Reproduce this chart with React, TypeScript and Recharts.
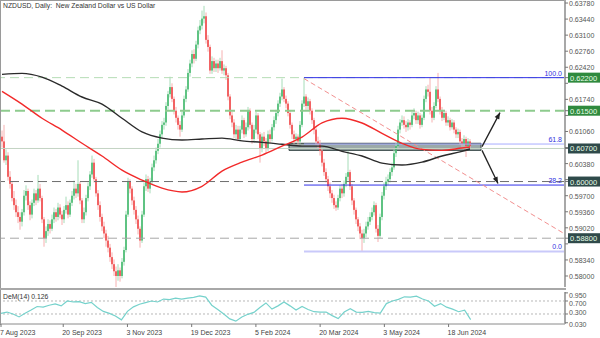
import React from 'react'
import { ComposedChart, Bar, Line, XAxis, YAxis, ReferenceLine, ReferenceArea } from 'recharts'

// ── Data (prices in pips, 1e-4) ───────────────────────────────────────────────

const firstOpen = 6095

const closes = [
  6085, 6045, 6055, 6010, 5995, 5965, 5950, 5935, 5925, 5915,
  5935, 5970, 5980, 5950, 5930, 5955, 5975, 5960, 5985, 5965,
  5920, 5880, 5895, 5910, 5900, 5920, 5935, 5925, 5945, 5930,
  5920, 5940, 5950, 5930, 5955, 5970, 5985, 5975, 5995, 5960,
  5920, 5935, 5965, 5990, 6015, 6040, 6005, 5975, 5950, 5925,
  5905, 5890, 5875, 5860, 5840, 5825, 5810, 5800, 5812, 5800,
  5830, 5855, 5930, 6000, 5985, 5960, 5940, 5920, 5900, 5875,
  5930, 5990, 6005, 5985, 6000, 6030, 6045, 6065, 6080, 6100,
  6120, 6125, 6160, 6185, 6200, 6175, 6150, 6135, 6120, 6110,
  6140, 6175, 6195, 6230, 6250, 6270, 6260, 6290, 6320, 6330,
  6345, 6350, 6300, 6285, 6235, 6255, 6240, 6250, 6240, 6255,
  6235, 6240, 6225, 6180, 6140, 6125, 6100, 6110, 6090, 6110,
  6130, 6100, 6115, 6150, 6120, 6090, 6110, 6140, 6100, 6070,
  6095, 6085, 6070, 6100, 6090, 6115, 6130, 6145, 6165, 6180,
  6195, 6175, 6165, 6145, 6120, 6100, 6090, 6095, 6085, 6120,
  6165, 6180, 6160, 6170, 6150, 6130, 6110, 6085, 6080, 6065,
  6040, 6020, 6005, 5990, 5975, 5965, 5950, 5945, 5965, 5985,
  5975, 5995, 6010, 6020, 5990, 5960, 5940, 5920, 5905, 5890,
  5880, 5890, 5905, 5915, 5925, 5935, 5950, 5900, 5885, 5925,
  5970, 5990, 6000, 6005, 6020, 6030, 6060, 6075, 6110, 6125,
  6130, 6120, 6115, 6125, 6120, 6140, 6145, 6130, 6140, 6120,
  6135, 6175, 6195, 6190, 6150, 6135, 6160, 6195, 6175, 6150,
  6135, 6145, 6125, 6130, 6115, 6125, 6110, 6100, 6105, 6085,
  6080, 6090, 6075, 6085, 6075,
]

const highs = [
  6108, 6120, 6068, 6062, 6022, 6000, 5980, 5962, 5948, 5935,
  5942, 5982, 5992, 5985, 5958, 5962, 5985, 5982, 6014, 5995,
  5970, 5925, 5905, 5920, 5918, 5930, 5945, 5942, 5955, 5952,
  5938, 5948, 5968, 5958, 5962, 5980, 6002, 5995, 6045, 6000,
  5965, 5945, 5972, 5998, 6022, 6055, 6048, 6010, 5982, 5958,
  5932, 5915, 5898, 5885, 5868, 5850, 5835, 5820, 5825, 5818,
  5838, 5862, 5938, 6008, 6005, 5990, 5968, 5948, 5928, 5905,
  5938, 5998, 6015, 6012, 6008, 6038, 6055, 6072, 6090, 6108,
  6128, 6135, 6168, 6192, 6222, 6208, 6180, 6158, 6140, 6128,
  6148, 6182, 6202, 6238, 6258, 6278, 6280, 6298, 6328, 6342,
  6362, 6372, 6358, 6310, 6290, 6265, 6262, 6258, 6258, 6262,
  6278, 6248, 6245, 6230, 6185, 6148, 6132, 6120, 6118, 6118,
  6140, 6135, 6125, 6158, 6155, 6125, 6120, 6148, 6145, 6105,
  6102, 6105, 6092, 6108, 6110, 6122, 6138, 6152, 6172, 6188,
  6218, 6200, 6182, 6170, 6150, 6125, 6108, 6102, 6100, 6128,
  6172, 6220, 6185, 6178, 6175, 6155, 6135, 6115, 6095, 6088,
  6070, 6048, 6028, 6012, 5998, 5982, 5972, 5958, 5972, 5992,
  5995, 6002, 6018, 6065, 6025, 5995, 5965, 5945, 5925, 5912,
  5898, 5900, 5915, 5925, 5935, 5945, 5958, 5955, 5908, 5932,
  5978, 5998, 6010, 6015, 6028, 6040, 6068, 6082, 6118, 6132,
  6140, 6138, 6128, 6132, 6130, 6148, 6155, 6150, 6148, 6145,
  6142, 6182, 6202, 6205, 6220, 6158, 6168, 6202, 6230, 6180,
  6158, 6152, 6150, 6138, 6135, 6132, 6130, 6115, 6112, 6110,
  6092, 6098, 6095, 6092, 6090,
]

const lows = [
  6072, 6040, 6035, 6002, 5985, 5958, 5940, 5925, 5912, 5898,
  5905, 5928, 5960, 5940, 5918, 5922, 5948, 5950, 5955, 5958,
  5912, 5862, 5870, 5885, 5890, 5895, 5912, 5915, 5918, 5922,
  5908, 5912, 5932, 5922, 5925, 5948, 5962, 5965, 5968, 5952,
  5912, 5912, 5928, 5958, 5982, 6008, 5998, 5968, 5940, 5915,
  5895, 5880, 5862, 5850, 5830, 5815, 5800, 5776, 5790, 5788,
  5795, 5822, 5850, 5925, 5975, 5950, 5930, 5910, 5888, 5860,
  5870, 5925, 5980, 5978, 5975, 5995, 6022, 6038, 6058, 6072,
  6092, 6110, 6118, 6152, 6178, 6168, 6142, 6125, 6110, 6095,
  6105, 6135, 6168, 6190, 6222, 6242, 6250, 6255, 6282, 6312,
  6322, 6335, 6292, 6275, 6228, 6228, 6232, 6232, 6230, 6235,
  6228, 6225, 6215, 6172, 6132, 6115, 6092, 6090, 6085, 6085,
  6102, 6092, 6095, 6108, 6112, 6080, 6085, 6102, 6090, 6040,
  6062, 6075, 6060, 6065, 6082, 6085, 6108, 6122, 6138, 6158,
  6172, 6168, 6155, 6138, 6112, 6090, 6080, 6082, 6078, 6080,
  6115, 6158, 6152, 6152, 6142, 6122, 6100, 6078, 6070, 6055,
  6032, 6012, 5998, 5980, 5965, 5955, 5942, 5938, 5940, 5958,
  5965, 5968, 5988, 6002, 5982, 5950, 5930, 5910, 5895, 5878,
  5852, 5870, 5882, 5898, 5908, 5918, 5928, 5892, 5872, 5880,
  5918, 5962, 5982, 5992, 5998, 6012, 6025, 6052, 6070, 6102,
  6118, 6112, 6105, 6108, 6110, 6115, 6132, 6122, 6122, 6112,
  6115, 6130, 6168, 6180, 6142, 6125, 6130, 6155, 6168, 6142,
  6128, 6130, 6118, 6118, 6108, 6110, 6102, 6092, 6092, 6078,
  6072, 6072, 6052, 6068, 6068,
]

// moving averages, read every 10 bars (plus the last bar)
const maBars = [0, 10, 20, 30, 40, 50, 60, 70, 80, 90, 100, 110, 120, 130, 140, 150, 160, 170, 180, 190, 200, 210, 220, 230, 234]
const ma100 = [6191, 6164, 6134, 6109, 6081, 6054, 6024, 6003, 5986, 5978, 5990, 6022, 6041, 6056, 6075, 6094, 6124, 6134, 6124, 6102, 6081, 6068, 6066, 6071, 6073]
const ma200 = [6227, 6229, 6221, 6202, 6179, 6164, 6134, 6105, 6092, 6088, 6090, 6092, 6086, 6083, 6079, 6075, 6075, 6064, 6054, 6039, 6035, 6041, 6054, 6064, 6069]

// DeMarker(14), one reading every 3 bars
const demStep = 3
const demValues = [
  0.32, 0.36, 0.30, 0.21, 0.32, 0.42, 0.53, 0.51, 0.57, 0.61,
  0.55, 0.70, 0.67, 0.68, 0.62, 0.66, 0.50, 0.38, 0.32, 0.24,
  0.12, 0.38, 0.52, 0.60, 0.65, 0.70, 0.67, 0.76, 0.74, 0.79,
  0.76, 0.79, 0.81, 0.86, 0.82, 0.57, 0.44, 0.30, 0.15, 0.08,
  0.21, 0.29, 0.35, 0.50, 0.64, 0.45, 0.55, 0.67, 0.55, 0.42,
  0.53, 0.44, 0.37, 0.36, 0.36, 0.25, 0.16, 0.36, 0.46, 0.36,
  0.35, 0.38, 0.34, 0.33, 0.62, 0.70, 0.75, 0.83, 0.82, 0.85,
  0.76, 0.70, 0.54, 0.62, 0.51, 0.45, 0.37, 0.42, 0.126,
]

const dateTickBars = [0, 31, 63, 95, 127, 159, 191, 223]
const dateLabels = ['7 Aug 2023', '20 Sep 2023', '3 Nov 2023', '19 Dec 2023', '5 Feb 2024', '20 Mar 2024', '3 May 2024', '18 Jun 2024']

const priceTicks = [0.6378, 0.6344, 0.631, 0.6276, 0.6242, 0.6208, 0.6174, 0.614, 0.6106, 0.6072, 0.6038, 0.6004, 0.597, 0.5936, 0.5902, 0.5868, 0.5834, 0.58]
const levelPrices = [0.622, 0.615, 0.607, 0.6, 0.588]
const levelColors = ['#2f8a3e', '#2f8a3e', '#2f4a4a', '#2f4a4a', '#2f4a4a']

const fibHigh = 0.622
const fibLow = 0.5852
const fibRatios = [1, 0.618, 0.382, 0]
const fibStartBar = 151
const demTicks = [0.95, 0.7, 0.3, 0.03]

const SLOTS = 282 // bars + empty shift area on the right

const rows = Array.from({ length: SLOTS }, (_, i) => {
  const row: any = { i }
  if (i < closes.length) {
    const open = i === 0 ? firstOpen : closes[i - 1]
    row.open = open / 1e4
    row.close = closes[i] / 1e4
    row.high = highs[i] / 1e4
    row.low = lows[i] / 1e4
    row.range = [row.low, row.high]
  }
  const m = maBars.indexOf(i)
  if (m >= 0) {
    row.ma100 = ma100[m] / 1e4
    row.ma200 = ma200[m] / 1e4
  }
  if (i % demStep === 0 && i / demStep < demValues.length) row.dem = demValues[i / demStep]
  return row
})

// ── Shapes ────────────────────────────────────────────────────────────────────

function Candle(props: any) {
  const { x, y, width, height, payload } = props
  if (!payload || payload.open == null || height == null) return null
  const top = height < 0 ? y + height : y
  const h = Math.abs(height)
  const { open, close, high, low } = payload
  const k = h / (high - low || 1)
  const yo = top + (high - open) * k
  const yc = top + (high - close) * k
  const up = close >= open
  const cx = x + width / 2
  return (
    <g>
      <line x1={cx} x2={cx} y1={top} y2={top + h} stroke={up ? '#a6dcb8' : '#f6b0b0'} strokeWidth={1} />
      <rect x={cx - 0.75} y={Math.min(yo, yc)} width={1.5} height={Math.max(1, Math.abs(yc - yo))} fill={up ? '#3ab565' : '#f03c3e'} />
    </g>
  )
}

function Arrow(props: any) {
  const { x1, y1, x2, y2 } = props
  if (x1 == null) return null
  const a = Math.atan2(y2 - y1, x2 - x1)
  const L = 7
  const p1 = `${x2 - L * Math.cos(a - 0.38)},${y2 - L * Math.sin(a - 0.38)}`
  const p2 = `${x2 - L * Math.cos(a + 0.38)},${y2 - L * Math.sin(a + 0.38)}`
  return (
    <g>
      <line x1={x1} y1={y1} x2={x2} y2={y2} stroke="#222" strokeWidth={1.3} />
      <polygon points={`${x2},${y2} ${p1} ${p2}`} fill="#222" />
    </g>
  )
}

function FibTag(props: any) {
  const vb = props.viewBox || {}
  return (
    <text x={(vb.x || 0) + (vb.width || 0) - 2} y={(vb.y || 0) - 2} textAnchor="end" fontSize={7} fill="#3030e0" fontFamily="Liberation Sans, Arial, sans-serif">
      {props.text}
    </text>
  )
}

function PriceTick(props: any) {
  const { x, y, payload } = props
  const v = payload.value
  const li = levelPrices.findIndex(p => Math.abs(p - v) < 1e-7)
  if (li >= 0) {
    return (
      <g>
        <rect x={x - 1} y={y - 5} width={33} height={10} fill={levelColors[li]} />
        <text x={x + 1} y={y + 3} fontSize={7.5} fill="#e8ffe8">{v.toFixed(5)}</text>
      </g>
    )
  }
  // labels that sit under a level box are covered in the original
  if (levelPrices.some(p => Math.abs(p - v) < 0.0016)) return null
  return <text x={x} y={y + 3} fontSize={7} fill="#555">{v.toFixed(5)}</text>
}

// small offsets keep the four oscillator labels inside the pane without overlapping
const demLabelShift: Record<string, number> = { '0.95': 5, '0.7': 5, '0.3': 1, '0.03': 4 }

function DemTick(props: any) {
  const { x, y, payload } = props
  const v = payload.value
  return <text x={x} y={y + (demLabelShift[String(v)] ?? 3)} fontSize={7} fill="#555">{v.toFixed(3)}</text>
}

function DateTick(props: any) {
  const { x, y, payload } = props
  const k = dateTickBars.indexOf(payload.value)
  return <text x={x - 1} y={y + 6} fontSize={7} fill="#444" textAnchor="start">{dateLabels[k]}</text>
}

// ── Component ─────────────────────────────────────────────────────────────────

export default function App() {
  const fibLevels = fibRatios.map(r => fibLow + r * (fibHigh - fibLow))
  const fibStyle = [
    { stroke: '#3030e8', width: 1, text: '100.0' },
    { stroke: '#a8acff', width: 1, text: '61.8' },
    { stroke: '#3030e8', width: 1, text: '38.2' },
    { stroke: '#c9c9fa', width: 2, text: '0.0' },
  ]
  return (
    <div style={styles.page}>
      <div style={{ ...styles.line, top: 0, left: 0, width: 566, height: 1 }} />
      <div style={{ ...styles.line, top: 0, left: 0, width: 1, height: 325 }} />
      <div style={{ ...styles.line, top: 288, left: 0, width: 566, height: 2, background: '#a8a8a8' }} />

      <div style={{ position: 'absolute', top: 0, left: 0 }}>
        <ComposedChart width={600} height={288} data={rows} margin={{ top: 0, right: 1, bottom: 1, left: 1 }} barCategoryGap={0}>
          <XAxis dataKey="i" type="category" hide />
          <YAxis
            orientation="right"
            width={34}
            domain={[0.57767, 0.63844]}
            allowDataOverflow
            ticks={[...priceTicks, ...levelPrices]}
            interval={0}
            tick={<PriceTick />}
            tickSize={3}
            tickMargin={1}
            tickLine={{ stroke: '#777' }}
            axisLine={{ stroke: '#a8a8a8', strokeWidth: 2 }}
          />
          <ReferenceLine y={0.622} stroke="#b5dcb5" strokeDasharray="9 5" />
          <ReferenceLine y={0.615} stroke="#8ecb8e" strokeWidth={2} strokeDasharray="10 5" />
          <ReferenceLine y={0.607} stroke="#c3d3c3" />
          <ReferenceLine y={0.6} stroke="#6e6e6e" strokeDasharray="9 5" />
          <ReferenceLine y={0.588} stroke="#a8a8a8" strokeDasharray="9 5" />
          {fibLevels.map((lv, k) => (
            <ReferenceLine
              key={k}
              segment={[{ x: fibStartBar, y: lv }, { x: SLOTS - 1, y: lv }]}
              stroke={fibStyle[k].stroke}
              strokeWidth={fibStyle[k].width}
              label={<FibTag text={fibStyle[k].text} />}
            />
          ))}
          <ReferenceLine segment={[{ x: fibStartBar, y: 0.6218 }, { x: SLOTS - 1, y: 0.589 }]} stroke="#f29090" strokeDasharray="5 3" />
          <ReferenceArea x1={144} x2={239} y1={0.6066} y2={0.6081} fill="#8a9a9a" fillOpacity={0.85} stroke="#344444" strokeWidth={1} />
          <Bar dataKey="range" shape={<Candle />} isAnimationActive={false} />
          <Line dataKey="ma200" type="monotone" stroke="#2a2a2a" strokeWidth={1.4} dot={false} connectNulls isAnimationActive={false} />
          <Line dataKey="ma100" type="monotone" stroke="#f22a2a" strokeWidth={1.4} dot={false} connectNulls isAnimationActive={false} />
          <ReferenceLine segment={[{ x: 240, y: 0.6074 }, { x: 249, y: 0.6146 }]} shape={<Arrow />} />
          <ReferenceLine segment={[{ x: 240, y: 0.6066 }, { x: 248, y: 0.5996 }]} shape={<Arrow />} />
        </ComposedChart>
      </div>

      <div style={{ position: 'absolute', top: 290, left: 0 }}>
        <ComposedChart width={600} height={48} data={rows} margin={{ top: 2, right: 1, bottom: 0, left: 1 }}>
          <XAxis
            dataKey="i"
            type="category"
            ticks={dateTickBars}
            interval={0}
            height={14}
            tick={<DateTick />}
            tickSize={3}
            tickLine={{ stroke: '#777' }}
            axisLine={{ stroke: '#8a8a8a' }}
          />
          <YAxis
            orientation="right"
            width={34}
            domain={[-0.008, 0.977]}
            ticks={demTicks}
            interval={0}
            tick={<DemTick />}
            tickSize={3}
            tickMargin={1}
            tickLine={{ stroke: '#777' }}
            axisLine={{ stroke: '#a8a8a8', strokeWidth: 2 }}
          />
          <ReferenceLine y={0.7} stroke="#b8b8b8" strokeDasharray="2 2" />
          <ReferenceLine y={0.3} stroke="#b8b8b8" strokeDasharray="2 2" />
          <Line dataKey="dem" type="linear" stroke="#76d2cc" strokeWidth={1.2} dot={false} connectNulls isAnimationActive={false} />
        </ComposedChart>
      </div>

      <div style={{ ...styles.text, top: 2, left: 3 }}>NZDUSD, Daily:&nbsp;&nbsp;New Zealand Dollar vs US Dollar</div>
      <div style={{ ...styles.text, top: 293, left: 3 }}>DeM(14) 0.126</div>
    </div>
  )
}

// ── Styles ────────────────────────────────────────────────────────────────────

const styles = {
  page: {
    position: 'absolute',
    top: 0,
    left: 0,
    width: 600,
    height: 338,
    background: '#fff',
    overflow: 'hidden',
    fontFamily: 'Liberation Sans, Arial, sans-serif',
  },
  line: { position: 'absolute', background: '#9a9a9a' },
  text: { position: 'absolute', fontSize: '6.8px', color: '#333', lineHeight: '8px', whiteSpace: 'nowrap' },
} as const
